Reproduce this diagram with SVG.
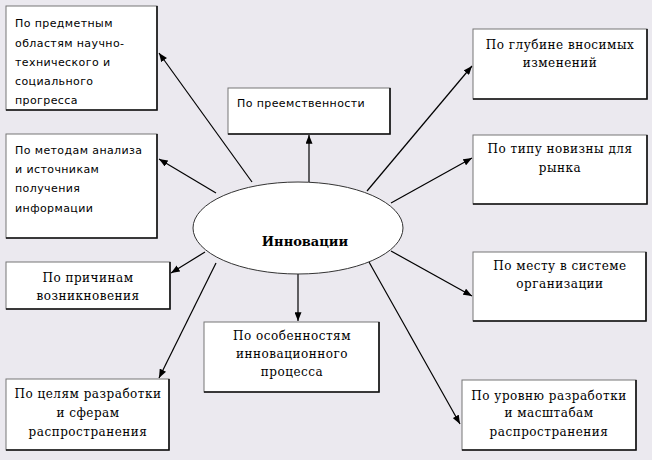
<svg xmlns="http://www.w3.org/2000/svg" width="652" height="460" viewBox="0 0 652 460">
<defs>
<marker id="ah" viewBox="0 0 10 8" refX="10" refY="4" markerWidth="9" markerHeight="7" markerUnits="userSpaceOnUse" orient="auto">
<path d="M0,0 L10,4 L0,8 Z" fill="#000"/>
</marker>
</defs>
<style>
.bx{fill:#fff;stroke:#777;stroke-width:1}
.sh{fill:none;stroke:#111;stroke-width:1.6}
.ss{font-family:"DejaVu Sans","Liberation Sans",sans-serif;font-size:11px;letter-spacing:0.4px;fill:#000}
.sf{font-family:"DejaVu Serif","Liberation Serif",serif;font-size:12px;letter-spacing:0.5px;fill:#000;text-anchor:middle}
.cn line{stroke:#000;stroke-width:1.2;marker-end:url(#ah)}
</style>
<rect width="652" height="460" fill="#ebe9ef"/>
<g class="cn" id="connectors">
<line x1="252" y1="182" x2="159" y2="53"/>
<line x1="216" y1="193" x2="159" y2="159"/>
<line x1="309" y1="182" x2="309" y2="135"/>
<line x1="367" y1="191" x2="472" y2="66"/>
<line x1="391" y1="203" x2="472" y2="158"/>
<line x1="391" y1="251" x2="472" y2="296"/>
<line x1="369" y1="262" x2="460" y2="424"/>
<line x1="298" y1="274" x2="298" y2="321"/>
<line x1="205" y1="252" x2="171" y2="273"/>
<line x1="216" y1="263" x2="159" y2="378"/>
</g>
<g id="n0">
<ellipse cx="298" cy="228" rx="105" ry="46" fill="#fff" stroke="#333" stroke-width="1"/>
<text x="305" y="246" font-family="DejaVu Serif,serif" font-size="13px" font-weight="bold" text-anchor="middle">Инновации</text>
</g>
<g id="n1">
<rect class="bx" x="6" y="6" width="151" height="104"/>
<polyline class="sh" points="157,6 157,110 6,110"/>
<text class="ss" x="15" y="27">По предметным</text>
<text class="ss" x="15" y="47">областям научно-</text>
<text class="ss" x="15" y="66">технического и</text>
<text class="ss" x="15" y="85">социального</text>
<text class="ss" x="15" y="104">прогресса</text>
</g>
<g id="n2">
<rect class="bx" x="6" y="134" width="151" height="104"/>
<polyline class="sh" points="157,134 157,238 6,238"/>
<text class="ss" x="15" y="154">По методам анализа</text>
<text class="ss" x="15" y="173">и источникам</text>
<text class="ss" x="15" y="192">получения</text>
<text class="ss" x="15" y="212">информации</text>
</g>
<g id="n3">
<rect class="bx" x="228" y="88" width="162" height="46"/>
<polyline class="sh" points="390,88 390,134 228,134"/>
<text class="ss" x="237" y="107">По преемственности</text>
</g>
<g id="n4">
<rect class="bx" x="473" y="29" width="174" height="70"/>
<polyline class="sh" points="647,29 647,99 473,99"/>
<text class="sf" x="560" y="49">По глубине вносимых</text>
<text class="sf" x="560" y="67">изменений</text>
</g>
<g id="n5">
<rect class="bx" x="473" y="135" width="174" height="69"/>
<polyline class="sh" points="647,135 647,204 473,204"/>
<text class="sf" x="560" y="153">По типу новизны для</text>
<text class="sf" x="560" y="172">рынка</text>
</g>
<g id="n6">
<rect class="bx" x="473" y="252" width="173" height="69"/>
<polyline class="sh" points="646,252 646,321 473,321"/>
<text class="sf" x="560" y="270">По месту в системе</text>
<text class="sf" x="560" y="288">организации</text>
</g>
<g id="n7">
<rect class="bx" x="462" y="380" width="174" height="70"/>
<polyline class="sh" points="636,380 636,450 462,450"/>
<text class="sf" x="549" y="400">По уровню разработки</text>
<text class="sf" x="549" y="417">и масштабам</text>
<text class="sf" x="549" y="436">распространения</text>
</g>
<g id="n8">
<rect class="bx" x="204" y="322" width="175" height="70"/>
<polyline class="sh" points="379,322 379,392 204,392"/>
<text class="sf" x="292" y="340">По особенностям</text>
<text class="sf" x="292" y="358">инновационного</text>
<text class="sf" x="292" y="376">процесса</text>
</g>
<g id="n9">
<rect class="bx" x="6" y="262" width="164" height="47"/>
<polyline class="sh" points="170,262 170,309 6,309"/>
<text class="sf" x="88" y="282">По причинам</text>
<text class="sf" x="88" y="300">возникновения</text>
</g>
<g id="n10">
<rect class="bx" x="6" y="379" width="163" height="71"/>
<polyline class="sh" points="169,379 169,450 6,450"/>
<text class="sf" x="88" y="398">По целям разработки</text>
<text class="sf" x="88" y="417">и сферам</text>
<text class="sf" x="88" y="436">распространения</text>
</g>
</svg>
